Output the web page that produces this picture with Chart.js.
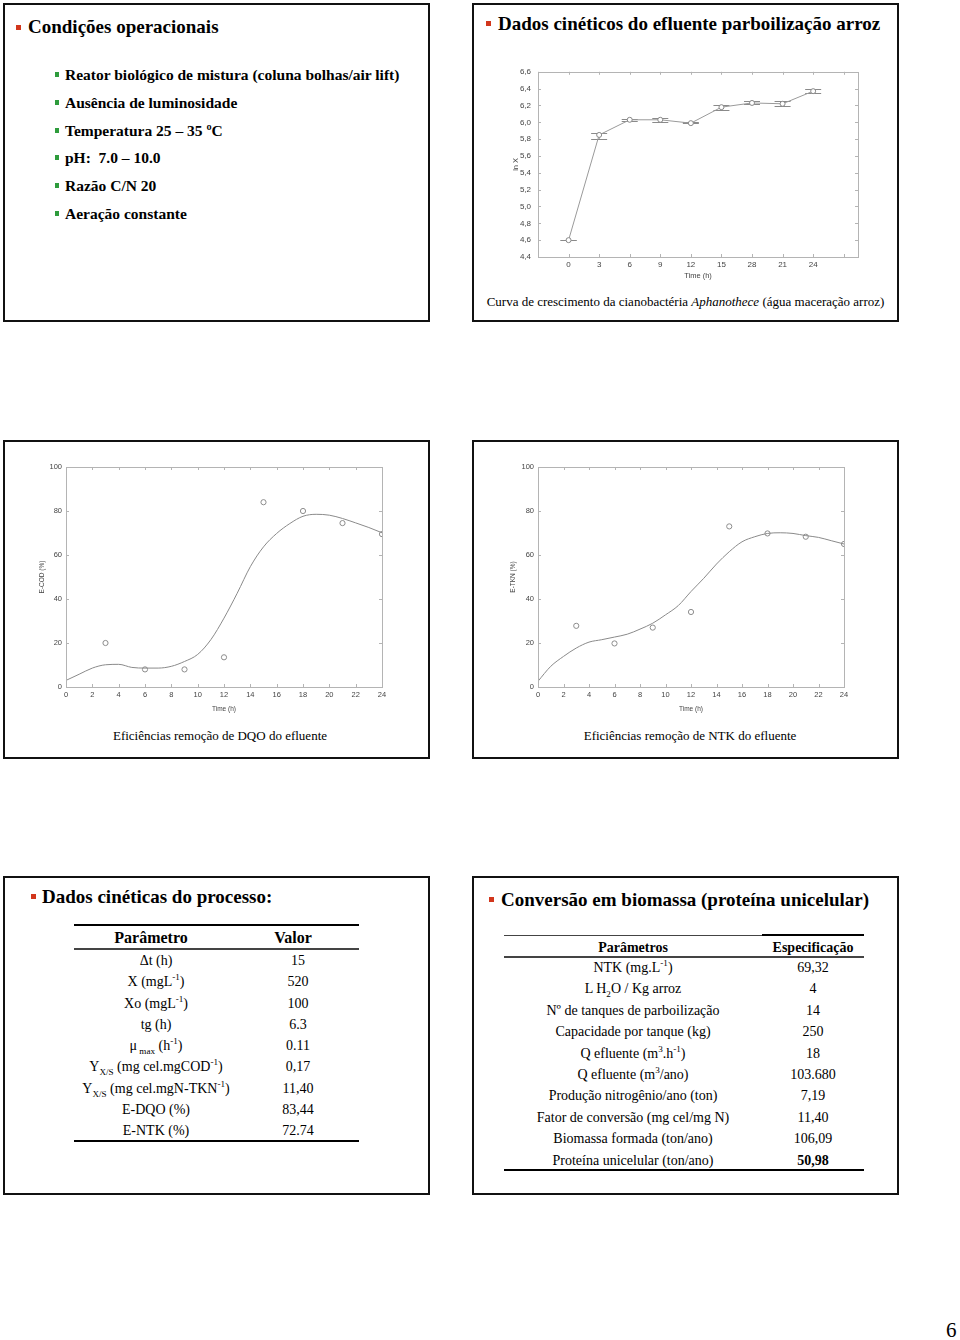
<!DOCTYPE html>
<html>
<head>
<meta charset="utf-8">
<script src="https://cdn.jsdelivr.net/npm/chart.js@4.4.1/dist/chart.umd.min.js"></script>
<style>
  body { margin: 0; width: 960px; height: 1340px; background: #fff; position: relative; overflow: hidden;
         font-family: "Liberation Serif", "Times New Roman", serif; color: #000; }
  .slide { position: absolute; width: 427px; height: 319px; border: 2px solid #111; box-sizing: border-box; }
  .t { position: absolute; white-space: nowrap; }
  .title { font-weight: bold; font-size: 19px; line-height: 24px; }
  .item { font-weight: bold; font-size: 15.5px; line-height: 20px; }
  .sq { position: absolute; width: 5px; height: 5px; background: #d2361c; }
  .gsq { position: absolute; width: 4px; height: 5px; background: #2e9c3c; }
  .cap { font-size: 13px; line-height: 18px; text-align: center; }
  .rule { position: absolute; background: #000; }
  .cell { position: absolute; white-space: nowrap; text-align: center; transform: translateX(-50%); }
  sup, sub { font-size: 65%; line-height: 0; }
  canvas { position: absolute; }
</style>
</head>
<body>
<div class="slide" style="left:3px;top:3px"></div>
<div class="slide" style="left:472px;top:3px"></div>
<div class="slide" style="left:3px;top:440px"></div>
<div class="slide" style="left:472px;top:440px"></div>
<div class="slide" style="left:3px;top:876px"></div>
<div class="slide" style="left:472px;top:876px"></div>

<!-- slide 1 -->
<div class="sq" style="left:16px;top:25px"></div>
<div class="t title" style="left:28px;top:15px">Condições operacionais</div>
<div id="conds"></div>

<!-- slide 2 -->
<div class="sq" style="left:486px;top:21px"></div>
<div class="t title" style="left:498px;top:12px">Dados cinéticos do efluente parboilização arroz</div>
<canvas id="growth" width="365" height="224" style="left:505px;top:60px"></canvas>
<div class="t cap" style="left:472px;width:427px;top:293px">Curva de crescimento da cianobactéria <i>Aphanothece</i> (água maceração arroz)</div>

<!-- slide 3 / 4 -->
<canvas id="cod" width="365" height="265" style="left:30px;top:455px"></canvas>
<div class="t cap" style="left:0px;width:440px;top:727px">Eficiências remoção de DQO do efluente</div>
<canvas id="tkn" width="357" height="265" style="left:500px;top:455px"></canvas>
<div class="t cap" style="left:470px;width:440px;top:727px">Eficiências remoção de NTK do efluente</div>

<!-- slide 5 -->
<div class="sq" style="left:31px;top:894px"></div>
<div class="t title" style="left:42px;top:885px">Dados cinéticas do processo:</div>
<div id="kin"></div>

<!-- slide 6 -->
<div class="sq" style="left:489px;top:897px"></div>
<div class="t title" style="left:501px;top:888px">Conversão em biomassa (proteína unicelular)</div>
<div id="bio"></div>

<div class="t" style="left:946px;top:1318px;font-size:21px;line-height:24px">6</div>

<script>
// growth curve (ln X vs time)
const growthHours = [0, 3, 6, 9, 12, 15, 18, 21, 24];
const growthLabels = ["0", "3", "6", "9", "12", "15", "28", "21", "24"];
const lnX = [4.60, 5.85, 6.03, 6.03, 5.99, 6.18, 6.23, 6.22, 6.37];
const lnXLow = [4.60, 5.80, 6.02, 6.00, 5.99, 6.15, 6.22, 6.19, 6.35];
const lnXHigh = [4.60, 5.87, 6.04, 6.05, 6.00, 6.21, 6.25, 6.25, 6.40];
const lnXTicks = [4.4, 4.6, 4.8, 5.0, 5.2, 5.4, 5.6, 5.8, 6.0, 6.2, 6.4, 6.6];

// removal efficiencies
const sampleHours = [3, 6, 9, 12, 15, 18, 21, 24];
const codMeasured = [20, 8, 8, 13.5, 84, 80, 74.5, 69.5];
const tknMeasured = [27.8, 19.8, 27, 34.1, 73, 69.8, 68.3, 65];
const fitHours = [0, 1, 2, 3, 4, 5, 6, 7, 8, 9, 10, 11, 12, 13, 14, 15, 16, 17, 18, 19, 20, 21, 22, 23, 24];
const codFit = [3, 5.8, 8.6, 10.1, 10.3, 8.9, 8.6, 8.6, 9.4, 11.6, 14.8, 21.5, 31.3, 42.6, 54.7, 63.7, 69.8, 74.3, 77.6, 78.5, 78.1, 76.6, 74.6, 72.5, 70.1];
const tknFit = [2.6, 9.4, 13.9, 17.7, 20.4, 21.5, 22.7, 24, 26.3, 29, 32.8, 37, 43.4, 49.4, 55.9, 61.5, 66, 68.3, 69.8, 70.1, 69.8, 68.8, 68, 66.5, 65];
const effTicks = [0, 20, 40, 60, 80, 100];
const hourTicks = [0, 2, 4, 6, 8, 10, 12, 14, 16, 18, 20, 22, 24];

// text slides
const conditions = [
  "Reator biológico de mistura (coluna bolhas/air lift)",
  "Ausência de luminosidade",
  "Temperatura 25 – 35 ºC",
  "pH:&nbsp; 7.0 – 10.0",
  "Razão C/N 20",
  "Aeração constante"
];
const kinParams = ["Δt (h)", "X (mgL<sup>-1</sup>)", "Xo (mgL<sup>-1</sup>)", "tg (h)",
  "μ<sub> max</sub> (h<sup>-1</sup>)", "Y<sub>X/S</sub> (mg cel.mgCOD<sup>-1</sup>)",
  "Y<sub>X/S</sub> (mg cel.mgN-TKN<sup>-1</sup>)", "E-DQO (%)", "E-NTK (%)"];
const kinValues = ["15", "520", "100", "6.3", "0.11", "0,17", "11,40", "83,44", "72.74"];
const bioParams = ["NTK (mg.L<sup>-1</sup>)", "L H<sub>2</sub>O / Kg arroz", "Nº de tanques de parboilização",
  "Capacidade por tanque (kg)", "Q efluente (m<sup>3</sup>.h<sup>-1</sup>)", "Q efluente (m<sup>3</sup>/ano)",
  "Produção nitrogênio/ano (ton)", "Fator de conversão (mg cel/mg N)", "Biomassa formada (ton/ano)",
  "Proteína unicelular (ton/ano)"];
const bioValues = ["69,32", "4", "14", "250", "18", "103.680", "7,19", "11,40", "106,09", "<b>50,98</b>"];

// ---------- text slides ----------
let html = "";
conditions.forEach((c, i) => {
  const cy = [75, 103, 131, 158, 186, 214][i];
  html += `<div class="gsq" style="left:55px;top:${cy - 3}px"></div>`;
  html += `<div class="t item" style="left:65px;top:${cy - 10}px">${c}</div>`;
});
document.getElementById("conds").innerHTML = html;

html = `<div class="rule" style="left:74px;top:924px;width:285px;height:2px"></div>
<div class="rule" style="left:74px;top:948px;width:285px;height:1.5px;background:#444"></div>
<div class="rule" style="left:74px;top:1140px;width:285px;height:2px"></div>
<div class="cell" style="left:151px;top:928px;font:bold 16px/20px 'Liberation Serif'">Parâmetro</div>
<div class="cell" style="left:293px;top:928px;font:bold 16px/20px 'Liberation Serif'">Valor</div>`;
kinParams.forEach((p, i) => {
  const cy = 961 + i * 21.25;
  html += `<div class="cell" style="left:156px;top:${cy - 10}px;font-size:14px;line-height:20px">${p}</div>`;
  html += `<div class="cell" style="left:298px;top:${cy - 10}px;font-size:14px;line-height:20px">${kinValues[i]}</div>`;
});
document.getElementById("kin").innerHTML = html;

html = `<div class="rule" style="left:504px;top:935px;width:258px;height:1px;background:#444"></div>
<div class="rule" style="left:762px;top:934px;width:102px;height:2px"></div>
<div class="rule" style="left:504px;top:956px;width:360px;height:1.5px;background:#444"></div>
<div class="rule" style="left:504px;top:1169px;width:360px;height:2px"></div>
<div class="cell" style="left:633px;top:938px;font:bold 14px/20px 'Liberation Serif'">Parâmetros</div>
<div class="cell" style="left:813px;top:938px;font:bold 14px/20px 'Liberation Serif'">Especificação</div>`;
bioParams.forEach((p, i) => {
  const cy = 968 + i * 21.4;
  html += `<div class="cell" style="left:633px;top:${cy - 10}px;font-size:14px;line-height:20px">${p}</div>`;
  html += `<div class="cell" style="left:813px;top:${cy - 10}px;font-size:14px;line-height:20px">${bioValues[i]}</div>`;
});
document.getElementById("bio").innerHTML = html;

// ---------- charts ----------
Chart.defaults.font.family = "'Liberation Sans', Arial, sans-serif";
Chart.defaults.color = "#444";

// box round the plot with small inward ticks on all four sides
const frameTicks = {
  id: "frameTicks",
  afterDraw(chart) {
    const { ctx, chartArea: a, scales: { x, y } } = chart;
    ctx.save();
    ctx.strokeStyle = "#b4b4b4";
    ctx.lineWidth = 1;
    ctx.strokeRect(Math.round(a.left) + 0.5, Math.round(a.top) + 0.5,
      Math.round(a.right - a.left), Math.round(a.bottom - a.top));
    ctx.beginPath();
    x.ticks.forEach(t => {
      const px = Math.round(x.getPixelForValue(t.value)) + 0.5;
      ctx.moveTo(px, a.bottom); ctx.lineTo(px, a.bottom - 3);
      ctx.moveTo(px, a.top); ctx.lineTo(px, a.top + 3);
    });
    y.ticks.forEach(t => {
      const py = Math.round(y.getPixelForValue(t.value)) + 0.5;
      ctx.moveTo(a.left, py); ctx.lineTo(a.left + 3, py);
      ctx.moveTo(a.right, py); ctx.lineTo(a.right - 3, py);
    });
    ctx.stroke();
    ctx.restore();
  }
};

// error bars for the growth curve
const errorBars = {
  id: "errorBars",
  beforeDatasetsDraw(chart) {
    const { ctx, scales: { x, y } } = chart;
    ctx.save();
    ctx.strokeStyle = "#8a8a8a";
    ctx.lineWidth = 1;
    ctx.beginPath();
    growthHours.forEach((h, i) => {
      const px = x.getPixelForValue(h);
      const lo = Math.round(y.getPixelForValue(lnXLow[i])) + 0.5;
      const hi = Math.round(y.getPixelForValue(lnXHigh[i])) + 0.5;
      ctx.moveTo(px - 8, lo); ctx.lineTo(px + 8, lo);
      ctx.moveTo(px - 8, hi); ctx.lineTo(px + 8, hi);
      ctx.moveTo(px, lo); ctx.lineTo(px, hi);
    });
    ctx.stroke();
    ctx.restore();
  }
};

function axisTitle(text, size, pad) {
  return { display: true, text, color: "#444", font: { size }, padding: pad };
}

new Chart(document.getElementById("growth"), {
  type: "line",
  data: {
    datasets: [{
      data: growthHours.map((h, i) => ({ x: h, y: lnX[i] })),
      borderColor: "#9a9a9a",
      borderWidth: 1,
      pointRadius: 2.5,
      pointBackgroundColor: "#fff",
      pointBorderColor: "#888",
      pointBorderWidth: 1,
      tension: 0
    }]
  },
  options: {
    responsive: false,
    animation: false,
    devicePixelRatio: 1,
    layout: { padding: { left: 0, top: 9, right: 12, bottom: 0 } },
    plugins: { legend: { display: false }, tooltip: { enabled: false } },
    scales: {
      x: {
        type: "linear", min: -3, max: 28.4,
        afterFit: s => { s.height = 27; },
        afterBuildTicks: s => { s.ticks = [-3, 0, 3, 6, 9, 12, 15, 18, 21, 24, 27].map(v => ({ value: v })); },
        grid: { display: false, drawTicks: false },
        border: { display: false },
        ticks: {
          padding: 3, font: { size: 8 }, color: "#444", maxRotation: 0, autoSkip: false,
          callback: v => { const i = growthHours.indexOf(v); return i < 0 ? "" : growthLabels[i]; }
        },
        title: axisTitle("Time (h)", 7.5, { top: 0, bottom: 3.5 })
      },
      y: {
        min: 4.4, max: 6.6,
        afterFit: s => { s.width = 33; },
        afterBuildTicks: s => { s.ticks = lnXTicks.map(v => ({ value: v })); },
        grid: { display: false, drawTicks: false },
        border: { display: false },
        ticks: { padding: 7, font: { size: 8 }, color: "#444", callback: v => v.toFixed(1).replace(".", ",") },
        title: axisTitle("ln X", 7.5, { top: 6, bottom: 0 })
      }
    }
  },
  plugins: [frameTicks, errorBars]
});

function efficiencyChart(id, measured, fit, yLabel, yWidth, titlePad) {
  return new Chart(document.getElementById(id), {
    type: "scatter",
    data: {
      datasets: [
        {
          data: sampleHours.map((h, i) => ({ x: h, y: measured[i] })),
          pointRadius: 2.6,
          pointBackgroundColor: "rgba(0,0,0,0)",
          pointBorderColor: "#8c8c8c",
          pointBorderWidth: 1,
          showLine: false
        },
        {
          data: fitHours.map((h, i) => ({ x: h, y: fit[i] })),
          showLine: true,
          pointRadius: 0,
          borderColor: "#8a8a8a",
          borderWidth: 1,
          cubicInterpolationMode: "monotone"
        }
      ]
    },
    options: {
      responsive: false,
      animation: false,
      devicePixelRatio: 1,
      layout: { padding: { left: 0, top: 12, right: 13, bottom: 0 } },
      plugins: { legend: { display: false }, tooltip: { enabled: false } },
      scales: {
        x: {
          type: "linear", min: 0, max: 24,
          afterFit: s => { s.height = 33; },
          afterBuildTicks: s => { s.ticks = hourTicks.map(v => ({ value: v })); },
          grid: { display: false, drawTicks: false },
          border: { display: false },
          ticks: { padding: 3.5, font: { size: 7.5 }, color: "#444", maxRotation: 0, autoSkip: false },
          title: axisTitle("Time (h)", 6.5, { top: 0, bottom: 6.8 })
        },
        y: {
          min: 0, max: 100,
          afterFit: s => { s.width = yWidth; },
          afterBuildTicks: s => { s.ticks = effTicks.map(v => ({ value: v })); },
          grid: { display: false, drawTicks: false },
          border: { display: false },
          ticks: { padding: 4, font: { size: 7.5 }, color: "#444" },
          title: axisTitle(yLabel, 6.5, { top: titlePad, bottom: 0 })
        }
      }
    },
    plugins: [frameTicks]
  });
}

efficiencyChart("cod", codMeasured, codFit, "E-COD (%)", 36, 8.4);
efficiencyChart("tkn", tknMeasured, tknFit, "E-TKN (%)", 38, 9.4);
</script>
</body>
</html>
